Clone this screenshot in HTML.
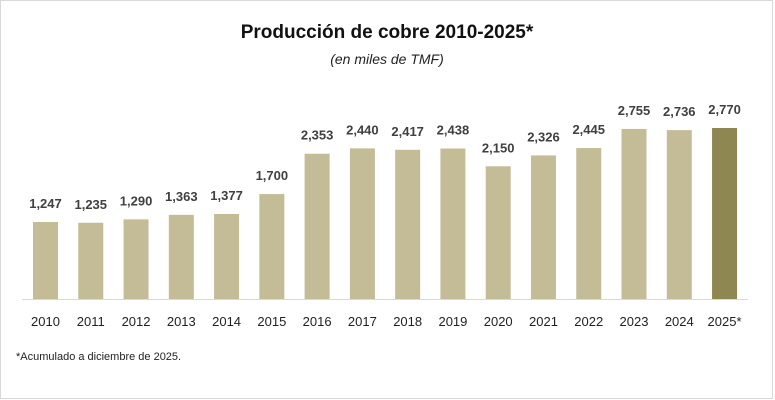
<!DOCTYPE html>
<html><head><meta charset="utf-8"><style>
body{margin:0;background:#fff;}
svg{display:block;font-family:"Liberation Sans",sans-serif;}
</style></head><body>
<svg width="775" height="400" viewBox="0 0 775 400">
<rect x="0.5" y="0.5" width="772" height="398" fill="#fff" stroke="#d9d9d9"/>
<text x="387" y="38" text-anchor="middle" font-size="19" font-weight="bold" fill="#111">Producción de cobre 2010-2025*</text>
<text x="387" y="64" text-anchor="middle" font-size="14" font-style="italic" fill="#222">(en miles de TMF)</text>
<g id="bars" font-size="13" text-anchor="middle" fill="#404040"></g>
<line x1="22" y1="299.5" x2="748" y2="299.5" stroke="#d9d9d9" stroke-width="1"/>
<text x="16" y="360" font-size="11" fill="#222">*Acumulado a diciembre de 2025.</text>
</svg>
<script>
var v=[1247,1235,1290,1363,1377,1700,2353,2440,2417,2438,2150,2326,2445,2755,2736,2770];
var g=document.getElementById('bars'),s='';
for(var i=0;i<16;i++){var cx=45.5+i*45.27,h=v[i]*171/2770,t=299-h;
var c=i==15?'#8f8752':'#c4bc97';
s+='<rect x="'+(cx-12.5)+'" y="'+t+'" width="25" height="'+h+'" fill="'+c+'"/>';
s+='<text x="'+cx+'" y="'+(t-14)+'" font-weight="bold">'+v[i].toLocaleString('en-US')+'</text>';
s+='<text x="'+cx+'" y="326" fill="#222">'+(2010+i)+(i==15?'*':'')+'</text>';}
g.innerHTML=s;
</script>
</body></html>
